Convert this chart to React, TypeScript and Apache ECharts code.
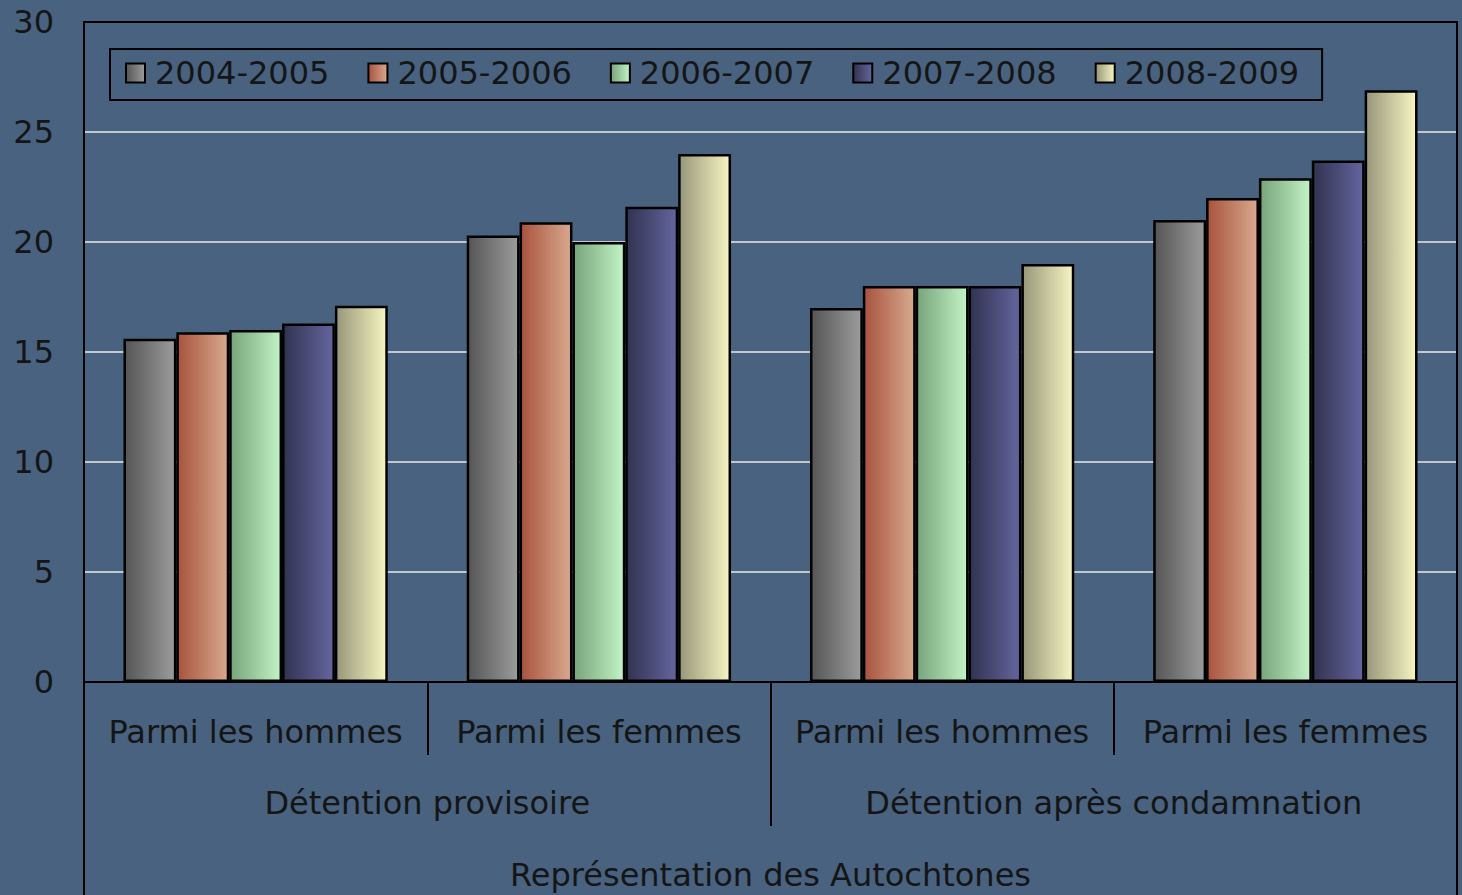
import React, { useEffect, useRef } from "react";
import * as echarts from "echarts";

const seasons = ["2004-2005", "2005-2006", "2006-2007", "2007-2008", "2008-2009"];
const groupLabels = ["Parmi les hommes", "Parmi les femmes", "Parmi les hommes", "Parmi les femmes"];
const detentionLabels = ["Détention provisoire", "Détention après condamnation"];
const topLabel = ["Représentation des Autochtones"];

const v2004 = [15.6, 20.3, 17.0, 21.0];
const v2005 = [15.9, 20.9, 18.0, 22.0];
const v2006 = [16.0, 20.0, 18.0, 22.9];
const v2007 = [16.3, 21.6, 18.0, 23.7];
const v2008 = [17.1, 24.0, 19.0, 26.9];
const seriesValues = [v2004, v2005, v2006, v2007, v2008];

const gradients: [string, string][] = [
  ["#555555", "#9c9c9c"],
  ["#a8533e", "#d8a98f"],
  ["#78a47c", "#c2f3c5"],
  ["#313350", "#64659e"],
  ["#97977a", "#f7f5c2"],
];

const FONT = "DejaVu Sans";
const TXT = "#151515";
const FS = 32;

export default function App() {
  const ref = useRef<HTMLDivElement>(null);
  useEffect(() => {
    if (!ref.current) return;
    const chart = echarts.init(ref.current, undefined, { renderer: "svg" });
    const tickStyle = { color: "#000", width: 2 };
    const option: any = {
      animation: false,
      backgroundColor: "#48627f",
      textStyle: { fontFamily: FONT },
      grid: {
        left: 84,
        right: 5,
        top: 22,
        bottom: 213,
        show: true,
        borderColor: "#000",
        borderWidth: 2,
        backgroundColor: "transparent",
        z: 3,
      },
      legend: {
        left: 110,
        top: 49,
        orient: "horizontal",
        borderColor: "#000",
        borderWidth: 2,
        padding: [8, 23, 11, 15],
        itemWidth: 19,
        itemHeight: 19,
        itemGap: 38,
        icon: "rect",
        textStyle: { fontFamily: FONT, fontSize: FS, color: TXT, padding: [0, 0, 0, 5] },
        data: seasons,
      },
      xAxis: [
        {
          type: "category",
          data: groupLabels,
          position: "bottom",
          z: 4,
          axisLine: { show: true, lineStyle: tickStyle },
          axisTick: { show: true, length: 73, lineStyle: tickStyle },
          axisLabel: { interval: 0, margin: 34, fontSize: FS, color: TXT, fontFamily: FONT },
        },
        {
          type: "category",
          data: detentionLabels,
          position: "bottom",
          z: 4,
          axisLine: { show: false },
          axisTick: { show: true, length: 144, lineStyle: tickStyle },
          axisLabel: { interval: 0, margin: 105, fontSize: FS, color: TXT, fontFamily: FONT },
        },
        {
          type: "category",
          data: topLabel,
          position: "bottom",
          z: 4,
          axisLine: { show: false },
          axisTick: { show: true, length: 230, lineStyle: tickStyle },
          axisLabel: { interval: 0, margin: 177, fontSize: FS, color: TXT, fontFamily: FONT },
        },
      ],
      yAxis: {
        type: "value",
        min: 0,
        max: 30,
        interval: 5,
        z: 0,
        axisLine: { show: false },
        axisTick: { show: false },
        axisLabel: { margin: 30, fontSize: FS, color: TXT, fontFamily: FONT },
        splitLine: { show: true, lineStyle: { color: "#c3c8cf", width: 2 } },
      },
      series: seasons.map((name, i) => ({
        name,
        type: "bar",
        xAxisIndex: 0,
        yAxisIndex: 0,
        data: seriesValues[i],
        barGap: "0%",
        barCategoryGap: "23%",
        itemStyle: {
          borderColor: "#000",
          borderWidth: 2.5,
          color: new echarts.graphic.LinearGradient(0, 0, 1, 0, [
            { offset: 0, color: gradients[i][0] },
            { offset: 1, color: gradients[i][1] },
          ]),
        },
      })),
    };
    chart.setOption(option);
    return () => chart.dispose();
  }, []);
  return (
    <div
      ref={ref}
      style={{ position: "absolute", left: 0, top: 0, width: 1462, height: 895 }}
    />
  );
}
